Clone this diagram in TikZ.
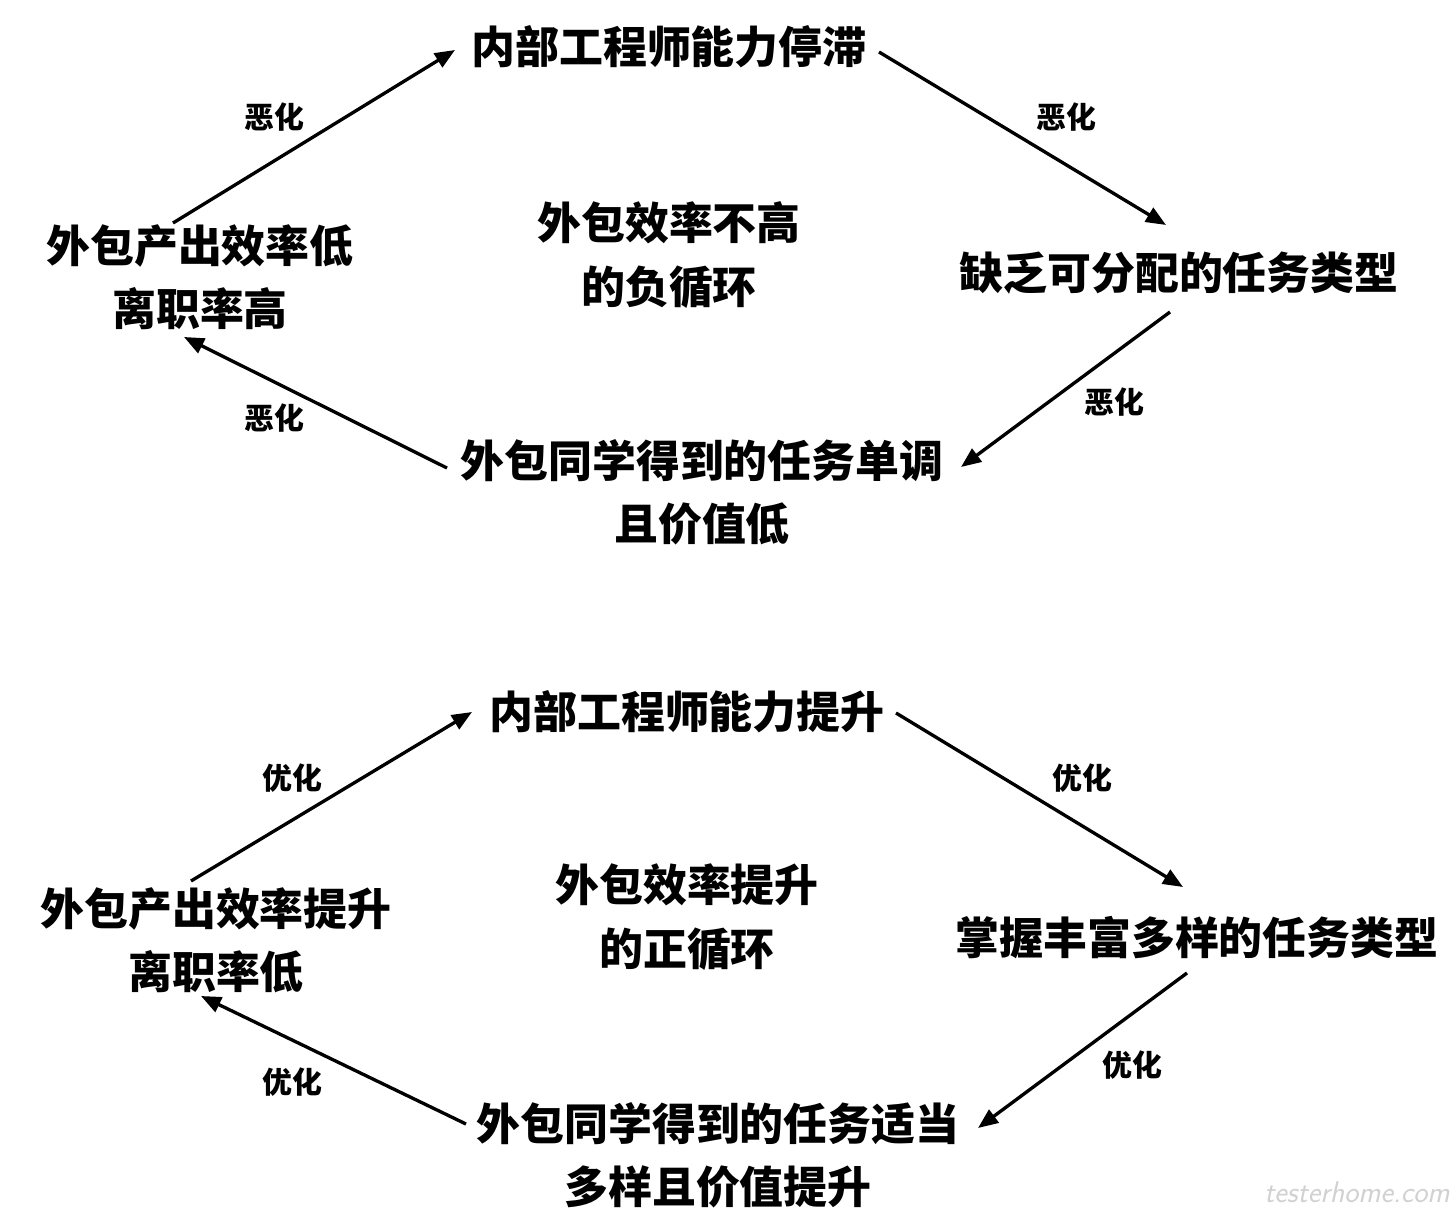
\documentclass[tikz,border=0pt]{standalone}
\usepackage{fontspec}
\setmainfont{Noto Sans CJK SC}
\usetikzlibrary{
		calc,
		arrows.meta,
		positioning
	}
\tikzset{
		>={Triangle[length=0.4cm,width=0.32cm]},
		stage/.style={inner sep=0pt, align=center, font=\bfseries\fontsize{25}{36}\selectfont},
		effect/.style={inner sep=0pt, font=\bfseries\fontsize{17}{20}\selectfont},
		loopline/.style={->, line width=1.9pt}
	}

\begin{document}
\begin{tikzpicture}[x=0.02cm, y=-0.02cm]
          \fill[white] (0,0) rectangle (1456,1222);
          \useasboundingbox (0,0) rectangle (1456,1222);

          % negative loop
          \node[stage] (a1) at (669,47) {内部工程师能力停滞};
          \node[stage] (b1) at (1179,273) {缺乏可分配的任务类型};
          \node[stage] (c1) at (702,492) {外包同学得到的任务单调\\且价值低};
          \node[stage] (d1) at (200,277) {外包产出效率低\\离职率高};
          \node[stage] (m1) at (669,255) {外包效率不高\\的负循环};

          \draw[loopline] ($(d1)+(-27,-54)$) -- ($(a1)+(-214,3)$);
          \draw[loopline] ($(a1)+(210,5)$) -- ($(b1)+(-13,-48)$);
          \draw[loopline] ($(b1)+(-9,39)$) -- ($(c1)+(259,-25)$);
          \draw[loopline] ($(c1)+(-255,-24)$) -- ($(d1)+(-16,60)$);

          \node[effect] (e1) at (274,117) {恶化};
          \node[effect] (e2) at (1066,117) {恶化};
          \node[effect] (e3) at (1114,402) {恶化};
          \node[effect] (e4) at (274,418) {恶化};

          % positive loop
          \node[stage] (a2) at (687,712) {内部工程师能力提升};
          \node[stage] (b2) at (1197,938) {掌握丰富多样的任务类型};
          \node[stage] (c2) at (718,1155) {外包同学得到的任务适当\\多样且价值提升};
          \node[stage] (d2) at (216,940) {外包产出效率提升\\离职率低};
          \node[stage] (m2) at (687,917) {外包效率提升\\的正循环};

          \draw[loopline] ($(d2)+(-25,-59)$) -- ($(a2)+(-215,0)$);
          \draw[loopline] ($(a2)+(209,1)$) -- ($(b2)+(-14,-51)$);
          \draw[loopline] ($(b2)+(-10,35)$) -- ($(c2)+(260,-27)$);
          \draw[loopline] ($(c2)+(-252,-31)$) -- ($(d2)+(-15,56)$);

          \node[effect] (g1) at (292,778) {优化};
          \node[effect] (g2) at (1082,778) {优化};
          \node[effect] (g3) at (1132,1065) {优化};
          \node[effect] (g4) at (292,1082) {优化};

          \node[text=black!18, inner sep=0pt, anchor=east, font=\sffamily\itshape\fontsize{17}{20}\selectfont] (mark) at (1450,1192) {testerhome.com};
\end{tikzpicture}
\end{document}
